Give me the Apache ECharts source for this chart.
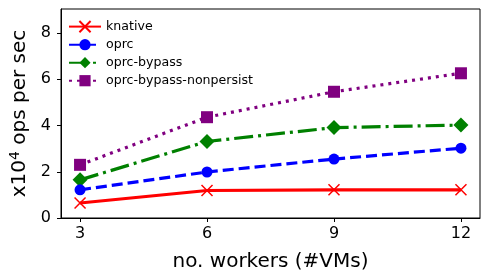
<!DOCTYPE html>
<html><head><meta charset="utf-8">
<script src="https://cdn.jsdelivr.net/npm/echarts@6/dist/echarts.min.js"></script>
<style>html,body{margin:0;padding:0;background:#fff}#c{width:489px;height:278px}</style>
</head><body><div id="c"></div>
<script>
const workers = [3, 6, 9, 12];
const knative = [0.65, 1.19, 1.22, 1.22];
const oprc = [1.22, 1.99, 2.55, 3.02];
const oprcBypass = [1.65, 3.31, 3.91, 4.02];
const oprcBypassNonpersist = [2.30, 4.36, 5.46, 6.26];
const yTicks = [0, 2, 4, 6, 8];
const seriesNames = ['knative', 'oprc', 'oprc-bypass', 'oprc-bypass-nonpersist'];

const F = 'DejaVu Sans';
const xPath = 'path://M0,0L10,10M10,0L0,10';
function pts(arr){ return workers.map((w,i)=>[w, arr[i]]); }

const chart = echarts.init(document.getElementById('c'));
chart.setOption({
  animation: false,
  grid: {left: 58, right: 9, top: 9, bottom: 60, show: true, borderColor: '#000', borderWidth: 1},
  legend: {
    orient: 'vertical', left: 63, top: 15, itemWidth: 32, itemHeight: 14, itemGap: 5,
    textStyle: {fontFamily: F, fontSize: 12.6, color: '#000'},
    data: seriesNames
  },
  xAxis: {
    type: 'value', min: 2.55, max: 12.45,
    name: 'no. workers (#VMs)', nameLocation: 'middle', nameGap: 34,
    nameTextStyle: {fontFamily: F, fontSize: 20, color: '#000'},
    axisLine: {show: true, lineStyle: {color: '#000', width: 1}},
    axisTick: {show: true, length: 4, lineStyle: {color: '#000'}, customValues: workers},
    axisLabel: {fontFamily: F, fontSize: 16, color: '#000', margin: 8, customValues: workers},
    splitLine: {show: false}
  },
  yAxis: {
    type: 'value', min: 0, max: 9.04,
    name: '{a|x10}{s|4}{a| ops per sec}', nameLocation: 'middle', nameGap: 30,
    nameTextStyle: {rich: {
      a: {fontFamily: F, fontSize: 20, color: '#000'},
      s: {fontFamily: F, fontSize: 14, color: '#000', verticalAlign: 'bottom', padding: [0,0,9,0]}
    }},
    axisLine: {show: true, lineStyle: {color: '#000', width: 1}},
    axisTick: {show: true, length: 4, lineStyle: {color: '#000'}, customValues: yTicks},
    axisLabel: {fontFamily: F, fontSize: 16, color: '#000', margin: 10, customValues: yTicks},
    splitLine: {show: false}
  },
  series: [
    {name: seriesNames[0], type: 'line', data: pts(knative), symbol: xPath, symbolSize: 11,
     lineStyle: {color: '#ff0000', width: 3.2},
     itemStyle: {color: '#ff0000', borderColor: '#ff0000', borderWidth: 1.5}, z: 5},
    {name: seriesNames[1], type: 'line', data: pts(oprc), symbol: 'circle', symbolSize: 11,
     lineStyle: {color: '#0000ff', width: 3.2, type: [11, 5], cap: 'butt'},
     itemStyle: {color: '#0000ff', borderWidth: 0}, z: 4},
    {name: seriesNames[2], type: 'line', data: pts(oprcBypass), symbol: 'diamond', symbolSize: [15, 15],
     lineStyle: {color: '#008000', width: 3.2, type: [19, 5, 3, 5], cap: 'butt'},
     itemStyle: {color: '#008000', borderWidth: 0}, z: 3},
    {name: seriesNames[3], type: 'line', data: pts(oprcBypassNonpersist), symbol: 'rect', symbolSize: 12,
     lineStyle: {color: '#800080', width: 3.2, type: [3, 5], cap: 'butt'},
     itemStyle: {color: '#800080', borderWidth: 0}, z: 2}
  ]
});
</script></body></html>
